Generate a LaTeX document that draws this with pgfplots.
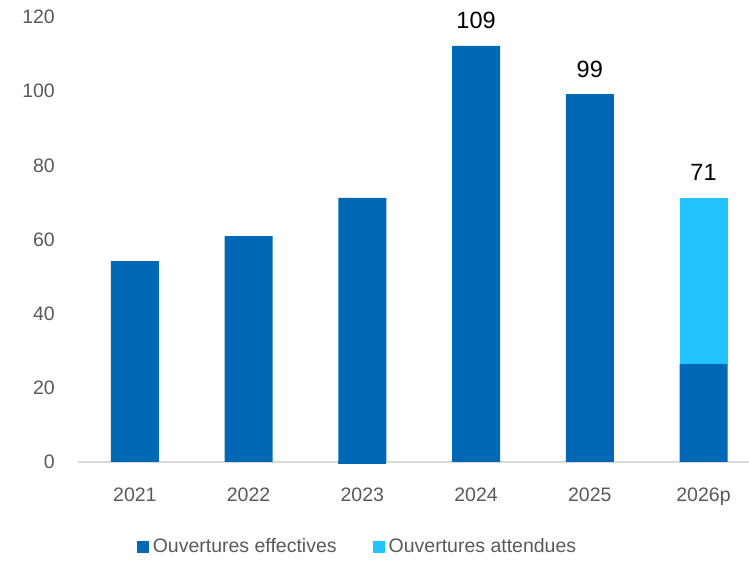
\documentclass[border=0pt]{standalone}
\usepackage{pgfplots}
\pgfplotsset{compat=1.18}
\usepackage{fontspec}
\setmainfont{Liberation Sans}
\definecolor{darkb}{HTML}{0068B5}
\definecolor{lightb}{HTML}{21C4FF}
\definecolor{tickg}{HTML}{595959}
\definecolor{baseg}{HTML}{D9D9D9}
\pgfplotsset{commonax/.style={
  at={(0pt,0pt)}, anchor=south west,
  scale only axis, width=671pt, height=445pt,
  xmin=-0.5, xmax=5.4, ymin=0, ymax=120,
  clip=false,
}}
\begin{document}
\begin{tikzpicture}
\useasboundingbox (-78pt,-99pt) rectangle (671pt,462pt);
\begin{axis}[
  commonax,
  ybar stacked, bar width=48pt,
  xtick={0,1,2,3,4,5},
  xticklabels={2021,2022,2023,2024,2025,2026p},
  ytick={0,20,40,60,80,100,120},
  axis x line*=bottom, axis y line*=left,
  x axis line style={baseg, line width=1.5pt, -},
  y axis line style={draw=none},
  major tick length=0pt,
  tick style={draw=none},
  /pgf/number format/assume math mode=true,
  ticklabel style={font=\fontsize{19.5}{22}\selectfont, text=tickg, inner sep=0pt},
  yticklabel style={anchor=east, xshift=-23pt},
  xticklabel style={anchor=base, yshift=-40pt},
  legend columns=2,
  legend style={draw=none, fill=none, at={(0.4165,-0.19)}, anchor=center,
    font=\fontsize{19.5}{22}\selectfont, text=tickg,
    /tikz/every odd column/.append style={column sep=2pt},
    /tikz/every even column/.append style={column sep=34pt}},
  legend image code/.code={\fill[#1] (0pt,-6pt) rectangle (12pt,6pt);},
]
\addplot[fill=darkb, draw=none] table[x=x,y=y] {
x y
0 54.2
1 60.9
2 71.2
3 112.2
4 99.2
5 26.4
};
\addlegendentry{Ouvertures effectives}
\addplot[fill=lightb, draw=none] table[x=x,y=y] {
x y
0 0
1 0
2 0
3 0
4 0
5 44.8
};
\addlegendentry{Ouvertures attendues}
\end{axis}
\begin{axis}[
  commonax, hide axis,
]
\addplot[ybar, bar width=48pt, fill=darkb, draw=none] table[x=x,y=y] {
x y
2 -0.6
};
\addplot[draw=none, mark=none, nodes near coords, point meta=explicit symbolic,
  every node near coord/.append style={font=\fontsize{23.5}{26}\selectfont, text=black, anchor=base, yshift=17pt}]
  table[x=x,y=y,meta=lab] {
x y lab
3 112.2 109
4 99.2 99
5 71.2 71
};
\end{axis}
\end{tikzpicture}
\end{document}
